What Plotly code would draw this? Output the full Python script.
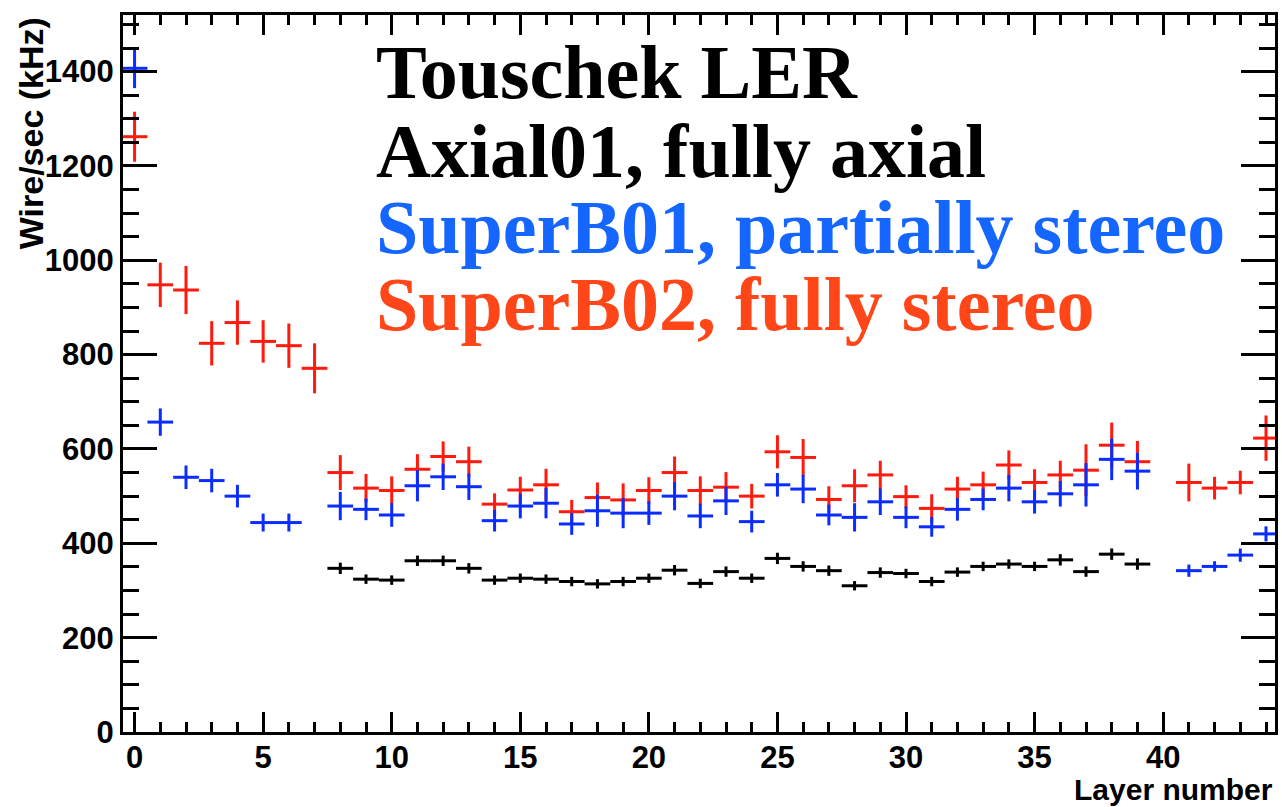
import plotly.graph_objects as go

# ---------------- data ----------------
layers = list(range(45))

red_layers = [l for l in layers if l != 40]
red_vals = [1262, 948, 937, 824, 868, 828, 819, 771, 550, 517, 512, 557, 584, 573, 483, 513,
            524, 467, 497, 492, 512, 550, 512, 519, 500, 594, 582, 493, 522, 545, 499, 474,
            515, 524, 566, 529, 545, 555, 608, 573, 529, 517, 529, 623]
red_errs = [53, 47, 51, 47, 47, 45, 47, 53, 37, 30, 30, 32, 32, 32, 23, 28,
            34, 25, 32, 35, 28, 34, 30, 32, 26, 35, 39, 28, 35, 30, 24, 30,
            26, 28, 31, 28, 30, 55, 48, 44, 40, 24, 25, 48]

blue_layers = [l for l in layers if l not in (7, 40)]
blue_vals = [1407, 657, 540, 533, 500, 444, 444, 479, 472, 460, 522, 541, 520, 448, 479,
             485, 441, 469, 464, 464, 500, 458, 490, 446, 524, 515, 460, 455, 488, 455,
             435, 472, 493, 517, 488, 505, 524, 578, 553, 342, 351, 375, 420]
blue_errs = [42, 29, 25, 25, 24, 19, 19, 30, 23, 25, 33, 28, 28, 23, 26,
             32, 23, 34, 32, 25, 30, 26, 30, 23, 25, 30, 22, 30, 28, 23,
             21, 24, 23, 28, 25, 27, 46, 44, 39, 13, 11, 14, 16]

black_layers = list(range(8, 40))
black_vals = [347, 324, 322, 363, 363, 347, 322, 326, 324, 319, 314, 319, 326, 343, 315, 340,
              326, 368, 351, 342, 310, 338, 336, 319, 339, 351, 356, 351, 365, 340, 377, 356]
black_errs = [12, 10, 10, 11, 11, 11, 10, 10, 10, 10, 10, 10, 10, 11, 10, 11,
              10, 12, 11, 11, 10, 11, 10, 10, 10, 10, 10, 10, 12, 11, 12, 12]

x_ticks = [0, 5, 10, 15, 20, 25, 30, 35, 40]
y_ticks = [0, 200, 400, 600, 800, 1000, 1200, 1400]

texts = ["Touschek LER", "Axial01, fully axial", "SuperB01, partially stereo", "SuperB02, fully stereo"]
text_colors = ["#000000", "#000000", "#1466ff", "#ff4619"]

RED = "#ff1a0d"
BLUE = "#0a2cff"
BLACK = "#000000"

fig = go.Figure()


def add_series(xs, ys, es, color, name):
    fig.add_trace(go.Scatter(
        x=xs, y=ys, mode="markers", name=name,
        marker=dict(size=2, color=color),
        error_x=dict(type="constant", value=0.5, color=color, thickness=3, width=0),
        error_y=dict(type="data", array=es, color=color, thickness=3, width=0),
        showlegend=False,
    ))


add_series(red_layers, red_vals, red_errs, RED, "SuperB02")
add_series(blue_layers, blue_vals, blue_errs, BLUE, "SuperB01")
add_series(black_layers, black_vals, black_errs, BLACK, "Axial01")

tickfont = dict(family="Liberation Sans", size=31, color="black", weight="bold")

fig.update_xaxes(
    range=[-0.45, 44.35], showgrid=False, zeroline=False,
    showline=True, linecolor="black", linewidth=3, mirror="allticks",
    ticks="inside", ticklen=20, tickwidth=3, tickcolor="black",
    tickvals=x_ticks, ticktext=[str(v) for v in x_ticks], tickfont=tickfont,
    ticklabelstandoff=-4,
    minor=dict(dtick=1, tick0=0, ticks="inside", ticklen=10, tickwidth=3, tickcolor="black"),
)
fig.update_yaxes(
    range=[0, 1520], showgrid=False, zeroline=False,
    showline=True, linecolor="black", linewidth=3, mirror="allticks",
    ticks="inside", ticklen=34, tickwidth=3, tickcolor="black",
    tickvals=y_ticks, ticktext=[str(v) for v in y_ticks], tickfont=tickfont,
    minor=dict(dtick=50, tick0=0, ticks="inside", ticklen=16, tickwidth=3, tickcolor="black"),
)

annotations = []
baseline_px = [98, 177, 253, 330]
for t, c, b in zip(texts, text_colors, baseline_px):
    ycenter = b - 26
    annotations.append(dict(
        text=t, xref="paper", yref="paper",
        x=(375 - 123) / 1155, y=(732 - ycenter) / 717,
        xanchor="left", yanchor="middle", showarrow=False,
        font=dict(family="Liberation Serif", size=76, color=c, weight="bold"),
    ))

annotations.append(dict(
    text="Wire/sec (kHz)", xref="paper", yref="paper",
    x=(31 - 123) / 1155, y=1.0, xanchor="center", yanchor="top",
    textangle=-90, showarrow=False,
    font=dict(family="Liberation Sans", size=34, color="black", weight="bold"),
))
annotations.append(dict(
    text="Layer number", xref="paper", yref="paper",
    x=1.0, y=(732 - 789) / 717, xanchor="right", yanchor="middle",
    showarrow=False,
    font=dict(family="Liberation Sans", size=30, color="black", weight="bold"),
))

fig.update_layout(
    width=1282, height=807,
    margin=dict(l=123, r=4, t=15, b=75, pad=0),
    paper_bgcolor="white", plot_bgcolor="white",
    annotations=annotations,
)

fig.write_html("out.html")
